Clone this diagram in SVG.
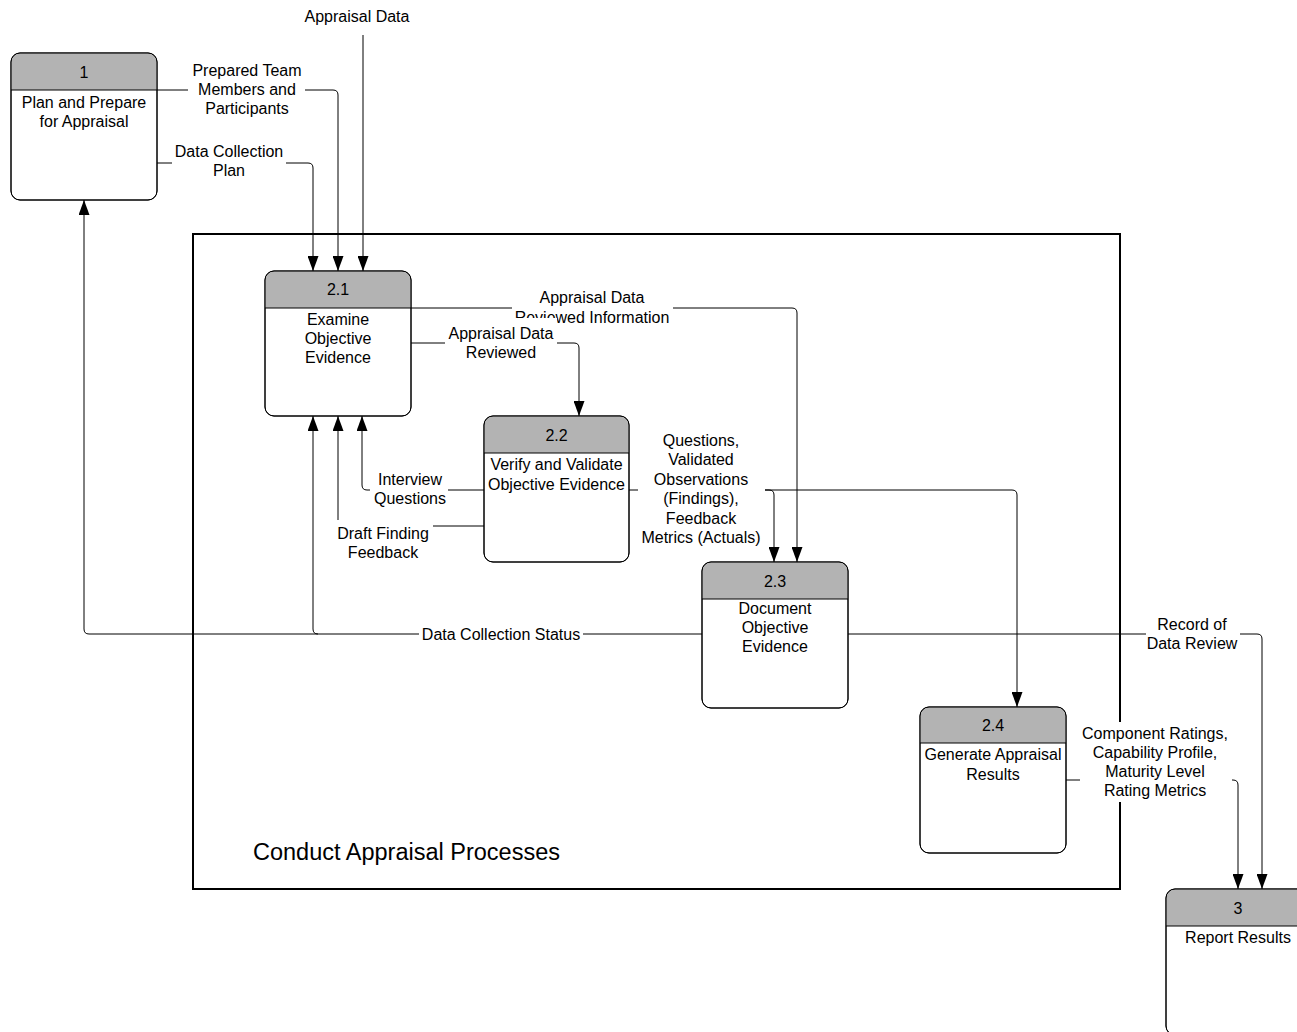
<svg xmlns="http://www.w3.org/2000/svg" width="1297" height="1032" viewBox="0 0 1297 1032">
<style>
text{font-family:"Liberation Sans",Arial,sans-serif;font-size:16px;fill:#000;text-anchor:middle}
.body{fill:#fff;stroke:#000;stroke-width:1}
.hdr{fill:#b3b3b3;stroke:none}
.sep{stroke:#000;stroke-width:1}
.out{fill:none;stroke:#000;stroke-width:1}
.con{fill:none;stroke:#000;stroke-width:1}
.bg{fill:#fff;stroke:none}
.title{font-size:23.5px;text-anchor:start}
</style>
<defs>
<marker id="arr" markerWidth="15" markerHeight="11" refX="15" refY="5.5" orient="auto" markerUnits="userSpaceOnUse"><path d="M0,0 L15,5.5 L0,11 Z" fill="#000"/></marker>
</defs>
<rect width="1297" height="1032" fill="#fff"/>
<g id="boundary">
<rect x="193" y="234" width="927" height="655" fill="none" stroke="#000" stroke-width="2"/>
<text class="title" x="253" y="860">Conduct Appraisal Processes</text>
</g>
<g id="connectors">
<path class="con" marker-end="url(#arr)" d="M363,35 V271"/>
<path class="con" marker-end="url(#arr)" d="M157,90 H333 Q338,90 338,95 V271"/>
<path class="con" marker-end="url(#arr)" d="M157,163 H308 Q313,163 313,168 V271"/>
<path class="con" marker-end="url(#arr)" d="M411,308 H792 Q797,308 797,313 V562"/>
<path class="con" marker-end="url(#arr)" d="M411,343 H574 Q579,343 579,348 V416"/>
<path class="con" marker-end="url(#arr)" d="M484,490 H367 Q362,490 362,485 V416"/>
<path class="con" marker-end="url(#arr)" d="M484,526 H343 Q338,526 338,521 V416"/>
<path class="con" marker-end="url(#arr)" d="M702,634 H89 Q84,634 84,629 V200"/>
<path class="con" marker-end="url(#arr)" d="M318,634 Q313,634 313,629 V416"/>
<path class="con" marker-end="url(#arr)" d="M629,490 H1012 Q1017,490 1017,495 V707"/>
<path class="con" marker-end="url(#arr)" d="M765,490 H769 Q774,490 774,495 V562"/>
<path class="con" marker-end="url(#arr)" d="M848,634 H1257 Q1262,634 1262,639 V889"/>
<path class="con" marker-end="url(#arr)" d="M1066,780 H1233 Q1238,780 1238,785 V889"/>
</g>
<g id="labels">
<g id="l-appraisal-data"><rect class="bg" x="300" y="4" width="112" height="30"/><text x="357" y="22">Appraisal Data</text></g>
<g id="l-prepared"><rect class="bg" x="188" y="62" width="117" height="56"/><text x="247" y="76">Prepared Team</text><text x="247" y="95">Members and</text><text x="247" y="114">Participants</text></g>
<g id="l-dcplan"><rect class="bg" x="172" y="143" width="114" height="40"/><text x="229" y="157">Data Collection</text><text x="229" y="176">Plan</text></g>
<g id="l-adri"><rect class="bg" x="512" y="288" width="161" height="40"/><text x="592" y="303">Appraisal Data</text><text x="592" y="323">Reviewed Information</text></g>
<g id="l-adr"><rect class="bg" x="445" y="318" width="112" height="45"/><text x="501" y="339">Appraisal Data</text><text x="501" y="358">Reviewed</text></g>
<g id="l-interview"><rect class="bg" x="370" y="470" width="78" height="40"/><text x="410" y="485">Interview</text><text x="410" y="504">Questions</text></g>
<g id="l-draft"><rect class="bg" x="333" y="520" width="100" height="45"/><text x="383" y="539">Draft Finding</text><text x="383" y="558">Feedback</text></g>
<g id="l-questions"><rect class="bg" x="638" y="430" width="127" height="118"/><text x="701" y="446">Questions,</text><text x="701" y="465">Validated</text><text x="701" y="485">Observations</text><text x="701" y="504">(Findings),</text><text x="701" y="524">Feedback</text><text x="701" y="543">Metrics (Actuals)</text></g>
<g id="l-dcstatus"><rect class="bg" x="419" y="624" width="164" height="22"/><text x="501" y="640">Data Collection Status</text></g>
<g id="l-record"><rect class="bg" x="1146" y="614" width="94" height="40"/><text x="1192" y="630">Record of</text><text x="1192" y="649">Data Review</text></g>
<g id="l-component"><rect class="bg" x="1080" y="722" width="152" height="80"/><text x="1155" y="739">Component Ratings,</text><text x="1155" y="758">Capability Profile,</text><text x="1155" y="777">Maturity Level</text><text x="1155" y="796">Rating Metrics</text></g>
</g>
<g id="node-1" transform="translate(11,53)">
<rect class="body" width="146" height="147" rx="9"/>
<path class="hdr" d="M0.5,37 V9 A8.5,8.5 0 0 1 9,0.5 H137 A8.5,8.5 0 0 1 145.5,9 V37 Z"/>
<line class="sep" x1="0" y1="37" x2="146" y2="37"/>
<rect class="out" width="146" height="147" rx="9"/>
<text x="73" y="25">1</text><text x="73" y="55">Plan and Prepare</text><text x="73" y="74">for Appraisal</text>
</g>
<g id="node-2-1" transform="translate(265,271)">
<rect class="body" width="146" height="145" rx="9"/>
<path class="hdr" d="M0.5,37 V9 A8.5,8.5 0 0 1 9,0.5 H137 A8.5,8.5 0 0 1 145.5,9 V37 Z"/>
<line class="sep" x1="0" y1="37" x2="146" y2="37"/>
<rect class="out" width="146" height="145" rx="9"/>
<text x="73" y="24">2.1</text><text x="73" y="54">Examine</text><text x="73" y="73">Objective</text><text x="73" y="92">Evidence</text>
</g>
<g id="node-2-2" transform="translate(484,416)">
<rect class="body" width="145" height="146" rx="9"/>
<path class="hdr" d="M0.5,37 V9 A8.5,8.5 0 0 1 9,0.5 H136 A8.5,8.5 0 0 1 144.5,9 V37 Z"/>
<line class="sep" x1="0" y1="37" x2="145" y2="37"/>
<rect class="out" width="145" height="146" rx="9"/>
<text x="72.5" y="25">2.2</text><text x="72.5" y="54">Verify and Validate</text><text x="72.5" y="74">Objective Evidence</text>
</g>
<g id="node-2-3" transform="translate(702,562)">
<rect class="body" width="146" height="146" rx="9"/>
<path class="hdr" d="M0.5,37 V9 A8.5,8.5 0 0 1 9,0.5 H137 A8.5,8.5 0 0 1 145.5,9 V37 Z"/>
<line class="sep" x1="0" y1="37" x2="146" y2="37"/>
<rect class="out" width="146" height="146" rx="9"/>
<text x="73" y="25">2.3</text><text x="73" y="52">Document</text><text x="73" y="71">Objective</text><text x="73" y="90">Evidence</text>
</g>
<g id="node-2-4" transform="translate(920,707)">
<rect class="body" width="146" height="146" rx="9"/>
<path class="hdr" d="M0.5,36 V9 A8.5,8.5 0 0 1 9,0.5 H137 A8.5,8.5 0 0 1 145.5,9 V36 Z"/>
<line class="sep" x1="0" y1="36" x2="146" y2="36"/>
<rect class="out" width="146" height="146" rx="9"/>
<text x="73" y="24">2.4</text><text x="73" y="53">Generate Appraisal</text><text x="73" y="73">Results</text>
</g>
<g id="node-3" transform="translate(1166,889)">
<rect class="body" width="146" height="146" rx="9"/>
<path class="hdr" d="M0.5,37 V9 A8.5,8.5 0 0 1 9,0.5 H137 A8.5,8.5 0 0 1 145.5,9 V37 Z"/>
<line class="sep" x1="0" y1="37" x2="146" y2="37"/>
<rect class="out" width="146" height="146" rx="9"/>
<text x="72" y="25">3</text><text x="72" y="54">Report Results</text>
</g>
</svg>
